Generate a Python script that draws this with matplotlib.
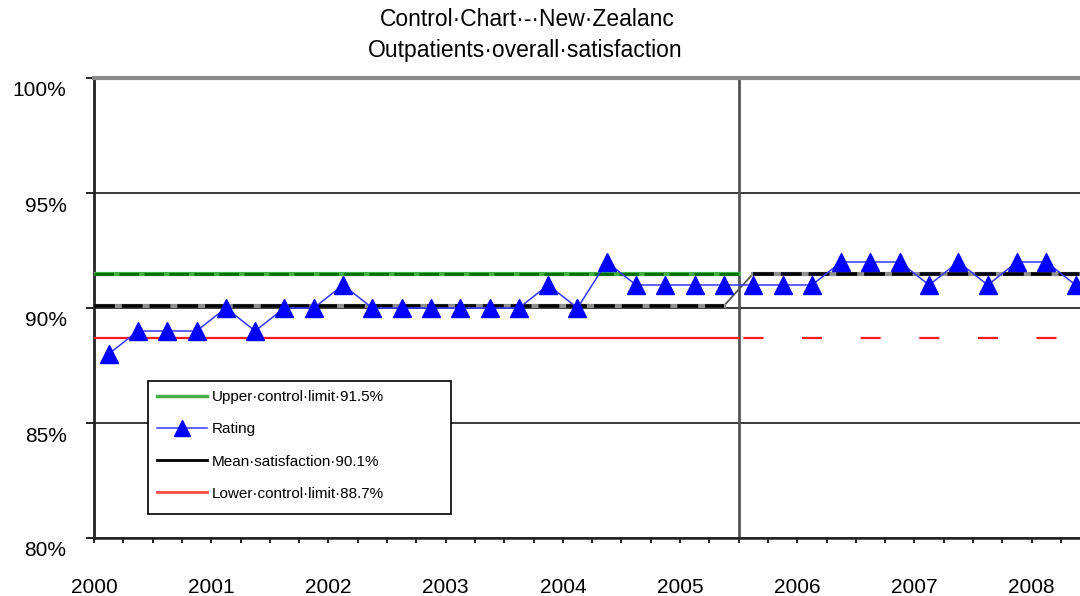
import matplotlib
matplotlib.use('Agg')
import matplotlib.pyplot as plt
import matplotlib.transforms as mtransforms
from matplotlib.lines import Line2D
from matplotlib.patches import Rectangle
import numpy as np

plt.rcParams['font.family'] = ['Liberation Sans', 'DejaVu Sans']
plt.rcParams['lines.scale_dashes'] = False

# ---------------- data ----------------
title_lines = ['Control·Chart·-·New·Zealanc', 'Outpatients·overall·satisfaction']
years = ['2000', '2001', '2002', '2003', '2004', '2005', '2006', '2007', '2008']
periods_per_year = 4
rating = [88, 89, 89, 89, 90, 89, 90, 90, 91, 90, 90, 90, 90, 90, 90, 91, 90,
          92, 91, 91, 91, 91, 91, 91, 91, 92, 92, 92, 91, 92, 91, 92, 92, 91]
mean_line = [90.1, 90.1, 90.1, 90.1, 90.1, 90.1, 90.1, 90.1, 90.1, 90.1, 90.1,
             90.1, 90.1, 90.1, 90.1, 90.1, 90.1, 90.1, 90.1, 90.1, 90.1, 90.1,
             91.5, 91.5, 91.5, 91.5, 91.5, 91.5, 91.5, 91.5, 91.5, 91.5, 91.5, 91.5]
upper_limit = 91.5
lower_limit = 88.7
break_index = 22
y_ticks = [80, 85, 90, 95, 100]
y_labels = ['80%', '85%', '90%', '95%', '100%']
legend_labels = ['Upper·control·limit·91.5%', 'Rating',
                 'Mean·satisfaction·90.1%', 'Lower·control·limit·88.7%']

# ---------------- figure ----------------
W, H = 1080, 596
fig = plt.figure(figsize=(W / 100, H / 100), dpi=100)
fig.patch.set_facecolor('white')
ax = fig.add_axes([94 / W, 1 - 538 / H, (W - 94) / W, 460 / H])

n = len(rating)
x = np.arange(n) + 0.5
xmax = 33.65
ax.set_xlim(0, xmax)
ax.set_ylim(80, 100)

# gridlines
ax.set_yticks(y_ticks)
ax.set_yticklabels(y_labels)
ax.yaxis.grid(True, color='#2a2a2a', lw=1.3, zorder=1)
ax.set_axisbelow(True)

# spines
ax.spines['right'].set_visible(False)
ax.spines['top'].set_color('#8a8a8a')
ax.spines['top'].set_linewidth(3)
ax.spines['left'].set_color('#222222')
ax.spines['left'].set_linewidth(2)
ax.spines['bottom'].set_color('#222222')
ax.spines['bottom'].set_linewidth(1.8)

# period break
ax.axvline(break_index, color='#555555', lw=2, zorder=2)

# upper control limit (first period)
ax.plot([0, break_index], [upper_limit, upper_limit], color='#45b045', lw=3, zorder=3)
ax.plot([0, break_index], [upper_limit, upper_limit], color='#007000', lw=2.2,
        dashes=(14, 4), zorder=3)

# lower control limit
ax.plot([0, break_index], [lower_limit, lower_limit], color='#ff1a1a', lw=1.6, zorder=3)
ax.plot([x[break_index - 1], xmax], [lower_limit, lower_limit], color='#ff1a1a', lw=1.6,
        linestyle=(28.2, (14.4, 27.8)), zorder=3)

# mean line (extended to axes edges); thick dashed levels, thin transition
xm = np.concatenate([[0], x, [xmax]])
ym = np.array([mean_line[0]] + mean_line + [mean_line[-1]])
ax.plot(xm, ym, color='#555555', lw=1.3, zorder=4)
first = xm <= x[break_index - 1]
second = xm >= x[break_index]
for sel in (first, second):
    ax.plot(xm[sel], ym[sel], color='#909090', lw=3, zorder=4)
    ax.plot(xm[sel], ym[sel], color='black', lw=2.6, dashes=(15, 5), zorder=4)

# rating series
ax.plot(x, rating, color='#3535ff', lw=1.1, marker='^', ms=13,
        mfc='#0000ff', mec='#0000ff', zorder=5)

# x ticks
ax.set_xticks(np.arange(0, len(years) * periods_per_year, periods_per_year))
ax.set_xticklabels(years)
ax.set_xticks(np.arange(0, int(xmax) + 1), minor=True)
ax.tick_params(axis='x', which='both', direction='out', length=3.6, width=1.4,
               color='#222222')
ax.tick_params(axis='x', which='major', labelsize=15, pad=25)
ax.tick_params(axis='y', direction='out', length=5.8, width=1.4, color='#222222',
               labelsize=15, pad=14)

offset = mtransforms.ScaledTranslation(0, -0.11, fig.dpi_scale_trans)
for lab in ax.get_yticklabels():
    lab.set_transform(lab.get_transform() + offset)

# legend box (pixel placement)
fig.add_artist(Rectangle((148 / W, 1 - 514 / H), (451 - 148) / W, (514 - 381) / H,
                         transform=fig.transFigure, facecolor='white',
                         edgecolor='black', lw=1.2, zorder=6))
handles = [
    Line2D([], [], color='#45b045', lw=2.5),
    Line2D([], [], color='#3535ff', lw=1.1, marker='^', ms=11, mfc='#0000ff', mec='#0000ff'),
    Line2D([], [], color='black', lw=2),
    Line2D([], [], color='#ff4a4a', lw=2),
]
leg = fig.legend(handles, legend_labels, loc='upper left',
                 bbox_to_anchor=(148 / W, 1 - 381 / H),
                 fontsize=11, frameon=False, borderpad=0.62, labelspacing=1.18,
                 handlelength=3.27, handletextpad=0.3, borderaxespad=0)
leg.set_zorder(7)

# title
fig.text(527 / W, 1 - 20 / H, title_lines[0], ha='center', va='center', fontsize=16.5)
fig.text(525 / W, 1 - 51 / H, title_lines[1], ha='center', va='center', fontsize=16.5)

fig.savefig('out.png', dpi=100)
